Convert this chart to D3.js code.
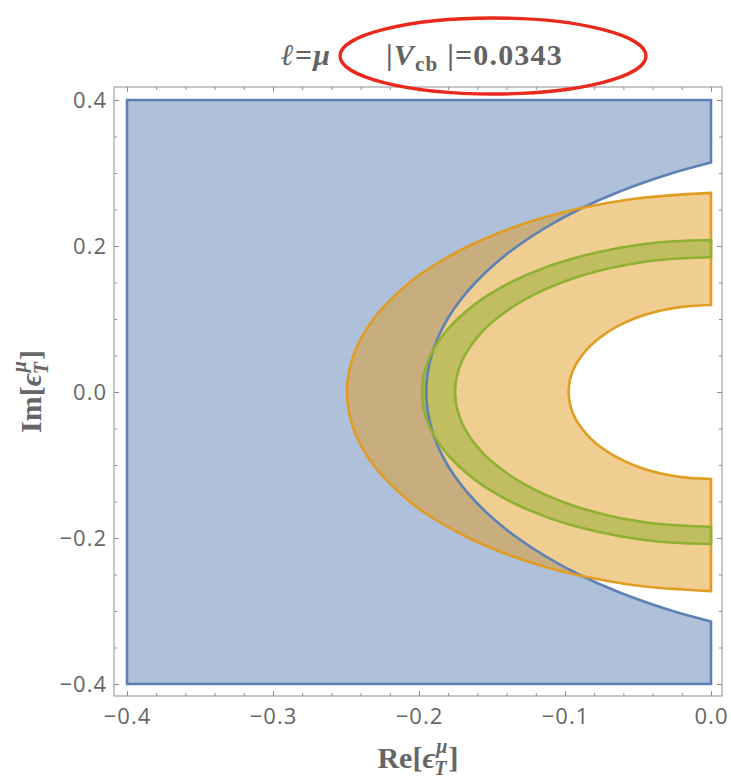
<!DOCTYPE html>
<html>
<head>
<meta charset="utf-8">
<script src="https://cdn.jsdelivr.net/npm/d3@7"></script>
<style>
  body { margin: 0; background: #fff; }
  svg { display: block; }
</style>
</head>
<body>
<svg id="chart" width="731" height="779"></svg>
<script>
// ---- tick positions and labels ----
const xTicks = [-0.4, -0.3, -0.2, -0.1, 0.0];
const xTickLabels = ["−0.4", "−0.3", "−0.2", "−0.1", "0.0"];
const xMinorTicks = [-0.38, -0.36, -0.34, -0.32, -0.28, -0.26, -0.24, -0.22,
                     -0.18, -0.16, -0.14, -0.12, -0.08, -0.06, -0.04, -0.02];
const yTicks = [-0.4, -0.2, 0.0, 0.2, 0.4];
const yTickLabels = ["−0.4", "−0.2", "0.0", "0.2", "0.4"];
const yMinorTicks = [-0.35, -0.3, -0.25, -0.15, -0.1, -0.05, 0.05, 0.1, 0.15, 0.25, 0.3, 0.35];

// ---- allowed regions in the (Re, Im) plane ----
// box bounding the blue region
const blueRe = [-0.4, 0.0];
const blueIm = [-0.4, 0.4];
// blue region: box minus the area to the right of this edge (top -> bottom)
const blueEdge = [
  [0.0, 0.3144], [-0.0262, 0.3], [-0.0621, 0.275], [-0.0904, 0.25], [-0.1134, 0.225],
  [-0.1324, 0.2], [-0.1483, 0.175], [-0.1613, 0.15], [-0.172, 0.125], [-0.1805, 0.1],
  [-0.1869, 0.075], [-0.1914, 0.05], [-0.1941, 0.025], [-0.195, 0.0],
  [-0.1941, -0.025], [-0.1914, -0.05], [-0.1869, -0.075], [-0.1805, -0.1], [-0.172, -0.125],
  [-0.1613, -0.15], [-0.1483, -0.175], [-0.1324, -0.2], [-0.1134, -0.225], [-0.0904, -0.25],
  [-0.0621, -0.275], [-0.0262, -0.3], [0.0, -0.3144]
];
// orange band: outer and inner edges (top -> bottom)
const orangeOuter = [
  [0.0, 0.2728], [-0.0512, 0.265], [-0.0932, 0.25], [-0.1127, 0.24], [-0.1361, 0.225],
  [-0.1659, 0.2], [-0.1886, 0.175], [-0.2064, 0.15], [-0.2312, 0.1], [-0.2449, 0.05],
  [-0.2493, 0.0],
  [-0.2449, -0.05], [-0.2312, -0.1], [-0.2064, -0.15], [-0.1886, -0.175], [-0.1659, -0.2],
  [-0.1361, -0.225], [-0.1127, -0.24], [-0.0932, -0.25], [-0.0512, -0.265], [0.0, -0.2728]
];
const orangeInner = [
  [0.0, 0.1192], [-0.0186, 0.117], [-0.0334, 0.112], [-0.0462, 0.105], [-0.0589, 0.095],
  [-0.0723, 0.08], [-0.0842, 0.06], [-0.0944, 0.03], [-0.0975, 0.0],
  [-0.0944, -0.03], [-0.0842, -0.06], [-0.0723, -0.08], [-0.0589, -0.095], [-0.0462, -0.105],
  [-0.0334, -0.112], [-0.0186, -0.117], [0.0, -0.1192]
];
// green band: outer and inner edges (top -> bottom)
const greenOuter = [
  [0.0, 0.2082], [-0.0253, 0.2065], [-0.044, 0.203], [-0.0668, 0.196], [-0.0908, 0.185],
  [-0.1143, 0.17], [-0.1373, 0.15], [-0.1618, 0.12], [-0.1828, 0.08], [-0.1943, 0.04],
  [-0.198, 0.0],
  [-0.1943, -0.04], [-0.1828, -0.08], [-0.1618, -0.12], [-0.1373, -0.15], [-0.1143, -0.17],
  [-0.0908, -0.185], [-0.0668, -0.196], [-0.044, -0.203], [-0.0253, -0.2065], [0.0, -0.2082]
];
const greenInner = [
  [0.0, 0.1845], [-0.0315, 0.1815], [-0.0495, 0.177], [-0.0725, 0.168], [-0.0951, 0.155],
  [-0.1195, 0.135], [-0.1407, 0.11], [-0.158, 0.08], [-0.1711, 0.04], [-0.1753, 0.0],
  [-0.1711, -0.04], [-0.158, -0.08], [-0.1407, -0.11], [-0.1195, -0.135], [-0.0951, -0.155],
  [-0.0725, -0.168], [-0.0495, -0.177], [-0.0315, -0.1815], [0.0, -0.1845]
];

// ---- layout ----
const frame = { left: 114, right: 722, top: 87, bottom: 696 };
const svg = d3.select("#chart");
const x = d3.scaleLinear().domain([-0.4, 0]).range([127, 711]);
const y = d3.scaleLinear().domain([-0.4, 0.4]).range([684, 100]);

const colors = {
  blue: "#5E81B5", orange: "#E19C24", green: "#8FB032",
  frame: "#8f8f8f", text: "#666666"
};

const smooth = d3.line().x(d => x(d[0])).y(d => y(d[1])).curve(d3.curveCatmullRom.alpha(0.5));
const straight = d3.line().x(d => x(d[0])).y(d => y(d[1]));
const cont = p => p.replace(/^M/, "L");

const bluePath =
  straight([[blueRe[0], blueIm[0]], [blueRe[0], blueIm[1]], [blueRe[1], blueIm[1]]]) +
  cont(smooth(blueEdge)) +
  cont(straight([[blueRe[1], blueIm[0]]])) + "Z";
const bandPath = (outer, inner) =>
  smooth(outer) + cont(smooth(inner.slice().reverse())) + "Z";
const orangePath = bandPath(orangeOuter, orangeInner);
const greenPath = bandPath(greenOuter, greenInner);

const regions = [
  { d: bluePath, c: colors.blue },
  { d: orangePath, c: colors.orange },
  { d: greenPath, c: colors.green }
];

const plot = svg.append("g");
plot.selectAll("path.fill").data(regions).join("path")
  .attr("class", "fill")
  .attr("d", r => r.d)
  .attr("fill", r => r.c)
  .attr("fill-opacity", 0.5)
  .attr("stroke", "none");
plot.selectAll("path.edge").data(regions).join("path")
  .attr("class", "edge")
  .attr("d", r => r.d)
  .attr("fill", "none")
  .attr("stroke", r => r.c)
  .attr("stroke-width", 2.6)
  .attr("stroke-linejoin", "miter");

// ---- frame and ticks ----
svg.append("rect")
  .attr("x", frame.left).attr("y", frame.top)
  .attr("width", frame.right - frame.left).attr("height", frame.bottom - frame.top)
  .attr("fill", "none").attr("stroke", colors.frame).attr("stroke-width", 1);

function styleAxis(g) {
  g.select(".domain").remove();
  g.selectAll(".tick line").attr("stroke", colors.frame);
  g.selectAll(".tick text")
    .attr("fill", colors.text)
    .attr("font-family", "'Open Sans', 'DejaVu Sans', sans-serif")
    .attr("font-size", 22)
    .attr("letter-spacing", 1);
}
const xLab = d => xTickLabels[xTicks.indexOf(d)];
const yLab = d => yTickLabels[yTicks.indexOf(d)];

svg.append("g").attr("transform", `translate(0,${frame.bottom})`)
  .call(d3.axisBottom(x).tickValues(xTicks).tickFormat(xLab).tickSizeInner(-5).tickSizeOuter(0).tickPadding(12))
  .call(styleAxis);
svg.append("g").attr("transform", `translate(0,${frame.bottom})`)
  .call(d3.axisBottom(x).tickValues(xMinorTicks).tickFormat("").tickSizeInner(-3).tickSizeOuter(0))
  .call(styleAxis);
svg.append("g").attr("transform", `translate(0,${frame.top})`)
  .call(d3.axisTop(x).tickValues(xTicks).tickFormat("").tickSizeInner(-5).tickSizeOuter(0))
  .call(styleAxis);
svg.append("g").attr("transform", `translate(0,${frame.top})`)
  .call(d3.axisTop(x).tickValues(xMinorTicks).tickFormat("").tickSizeInner(-3).tickSizeOuter(0))
  .call(styleAxis);

svg.append("g").attr("transform", `translate(${frame.left},0)`)
  .call(d3.axisLeft(y).tickValues(yTicks).tickFormat(yLab).tickSizeInner(-5).tickSizeOuter(0).tickPadding(7))
  .call(styleAxis);
svg.append("g").attr("transform", `translate(${frame.left},0)`)
  .call(d3.axisLeft(y).tickValues(yMinorTicks).tickFormat("").tickSizeInner(-3).tickSizeOuter(0))
  .call(styleAxis);
svg.append("g").attr("transform", `translate(${frame.right},0)`)
  .call(d3.axisRight(y).tickValues(yTicks).tickFormat("").tickSizeInner(-5).tickSizeOuter(0))
  .call(styleAxis);
svg.append("g").attr("transform", `translate(${frame.right},0)`)
  .call(d3.axisRight(y).tickValues(yMinorTicks).tickFormat("").tickSizeInner(-3).tickSizeOuter(0))
  .call(styleAxis);

// ---- axis labels: Re[ϵ_T^μ], Im[ϵ_T^μ] ----
const serif = "'Liberation Serif', 'DejaVu Serif', serif";
function axisLabel(g, head) {
  const t = g.append("text")
    .attr("text-anchor", "middle")
    .attr("font-family", serif)
    .attr("font-weight", "bold")
    .attr("font-size", 30)
    .attr("fill", colors.text);
  t.append("tspan").text(head);
  t.append("tspan").attr("font-style", "italic").text("ϵ");
  const sup = t.append("tspan").attr("font-style", "italic").attr("font-size", 20)
    .attr("dx", 1).attr("dy", -15).text("μ");
  const wSup = sup.node().getComputedTextLength();
  const sub = t.append("tspan").attr("font-style", "italic").attr("font-size", 20)
    .attr("dx", -wSup - 2).attr("dy", 22).text("T");
  const wSub = sub.node().getComputedTextLength();
  t.append("tspan").attr("dx", Math.max(0, wSup - wSub) + 2).attr("dy", -7).text("]");
}
axisLabel(svg.append("g").attr("transform", `translate(${(frame.left + frame.right) / 2},768)`), "Re[");
axisLabel(svg.append("g").attr("transform", `translate(41,${(frame.top + frame.bottom) / 2}) rotate(-90)`), "Im[");

// ---- title ----
const title = svg.append("g")
  .attr("font-family", serif)
  .attr("font-weight", "bold")
  .attr("font-size", 30)
  .attr("letter-spacing", 1.2)
  .attr("fill", "#636363");
const t1 = title.append("text").attr("x", 281).attr("y", 65);
t1.append("tspan").attr("font-style", "italic").text("ℓ");
t1.append("tspan").text("=");
t1.append("tspan").attr("font-style", "italic").text("μ");
const t2 = title.append("text").attr("x", 386).attr("y", 65).attr("xml:space", "preserve");
t2.append("tspan").text("|");
t2.append("tspan").attr("font-style", "italic").text("V");
t2.append("tspan").attr("font-size", 21).attr("dy", 6).text("cb");
t2.append("tspan").attr("dy", -6).text(" |=0.0343");

// highlight ring around the coupling value
svg.append("ellipse")
  .attr("cx", 493).attr("cy", 56).attr("rx", 153).attr("ry", 38)
  .attr("fill", "none").attr("stroke", "#E8291B").attr("stroke-width", 3.4);
</script>
</body>
</html>
